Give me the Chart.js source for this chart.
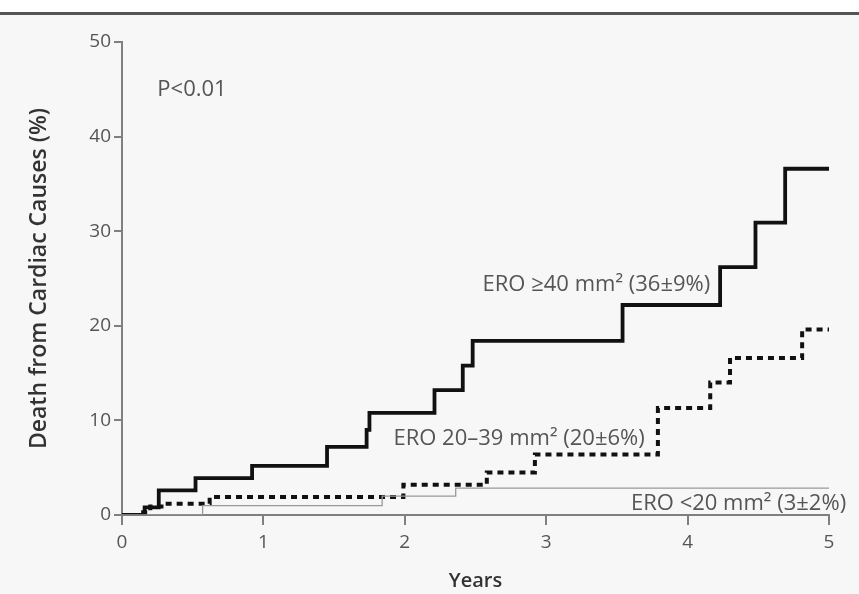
<!DOCTYPE html>
<html>
<head>
<meta charset="utf-8">
<script src="https://cdn.jsdelivr.net/npm/chart.js@4.4.0/dist/chart.umd.min.js"></script>
<style>
  html, body { margin: 0; padding: 0; background: #f7f7f7; }
  #top { position: absolute; left: 0; top: 0; width: 859px; height: 12px; background: #fff; }
  #rule { position: absolute; left: 0; top: 12px; width: 859px; height: 3px; background: #555; }
  #wrap { position: absolute; left: 0; top: 0; width: 859px; height: 594px; }
</style>
</head>
<body>
<div id="top"></div>
<div id="rule"></div>
<div id="wrap"><canvas id="chart" width="859" height="594"></canvas></div>
<script>
// Kaplan-Meier steps: [years, % dead]
const highYears = [0, 0.16, 0.26, 0.52, 0.92, 1.45, 1.73, 1.75, 2.21, 2.41, 2.48, 3.54, 4.23, 4.48, 4.69, 5.0];
const highPct   = [0, 0.8, 2.6, 3.9, 5.2, 7.2, 9.0, 10.8, 13.2, 15.8, 18.4, 22.2, 26.2, 30.9, 36.6, 36.6];

const midYears = [0, 0.12, 0.2, 0.3, 0.62, 1.99, 2.58, 2.92, 3.79, 4.16, 4.3, 4.81, 5.0];
const midPct   = [0, 0.3, 0.9, 1.2, 1.9, 3.2, 4.5, 6.4, 11.3, 14.0, 16.6, 19.6, 19.6];

const lowYears = [0, 0.57, 1.84, 2.36, 5.0];
const lowPct   = [0, 1.0, 2.0, 2.85, 2.85];

const xTicks = [0, 1, 2, 3, 4, 5];
const yTicks = [0, 10, 20, 30, 40, 50];

// text labels placed in data units
const notes = [
  { text: 'P<0.01', x: 0.25, y: 45.0 },
  { text: 'ERO \u226540 mm\u00b2 (36\u00b19%)', x: 2.55, y: 24.3 },
  { text: 'ERO 20\u201339 mm\u00b2 (20\u00b16%)', x: 1.92, y: 8.1 },
  { text: 'ERO <20 mm\u00b2 (3\u00b12%)', x: 3.6, y: 1.2 }
];

const pts = (xs, ys) => xs.map((x, i) => ({ x, y: ys[i] }));

const notesPlugin = {
  id: 'notes',
  afterDatasetsDraw(chart) {
    const { ctx, scales: { x, y } } = chart;
    ctx.save();
    ctx.fillStyle = '#555';
    ctx.font = '22px "Open Sans"';
    ctx.textBaseline = 'middle';
    ctx.textAlign = 'left';
    notes.forEach(n => {
      ctx.fillText(n.text, x.getPixelForValue(n.x), y.getPixelForValue(n.y));
    });
    ctx.restore();
  }
};

const axisColor = '#808080';

new Chart(document.getElementById('chart'), {
  type: 'line',
  data: {
    datasets: [
      { data: pts(lowYears, lowPct), borderColor: '#999', borderWidth: 1.3, stepped: true, pointRadius: 0 },
      { data: pts(midYears, midPct), borderColor: '#111', borderWidth: 4, borderDash: [6, 5], stepped: true, pointRadius: 0 },
      { data: pts(highYears, highPct), borderColor: '#111', borderWidth: 3.8, stepped: true, pointRadius: 0 }
    ]
  },
  options: {
    responsive: false,
    animation: false,
    events: [],
    layout: { padding: { top: 42, right: 30, left: 0, bottom: 0 } },
    plugins: { legend: { display: false }, tooltip: { enabled: false } },
    scales: {
      x: {
        type: 'linear', min: 0, max: 5,
        afterBuildTicks: s => { s.ticks = xTicks.map(v => ({ value: v })); },
        afterFit: s => { s.height = 79; },
        border: { display: true, color: axisColor, width: 2 },
        grid: { drawOnChartArea: false, drawTicks: true, tickLength: 10, color: axisColor, lineWidth: 2 },
        ticks: { color: '#555', font: { family: 'Open Sans', size: 19 }, padding: 6 },
        title: { display: true, text: 'Years', color: '#333', font: { family: 'Open Sans', size: 20, weight: '600' }, padding: { top: 0, bottom: 1 } }
      },
      y: {
        type: 'linear', min: 0, max: 50,
        afterBuildTicks: s => { s.ticks = yTicks.map(v => ({ value: v })); },
        afterFit: s => { s.width = 122; },
        border: { display: true, color: axisColor, width: 2 },
        grid: { drawOnChartArea: false, drawTicks: true, tickLength: 8, color: axisColor, lineWidth: 2 },
        ticks: { color: '#555', font: { family: 'Open Sans', size: 19 }, padding: 3 },
        title: { display: true, text: 'Death from Cardiac Causes (%)', color: '#333', font: { family: 'Open Sans', size: 23, weight: '600' }, padding: { top: 26, bottom: 0 } }
      }
    }
  },
  plugins: [notesPlugin]
});
</script>
</body>
</html>
